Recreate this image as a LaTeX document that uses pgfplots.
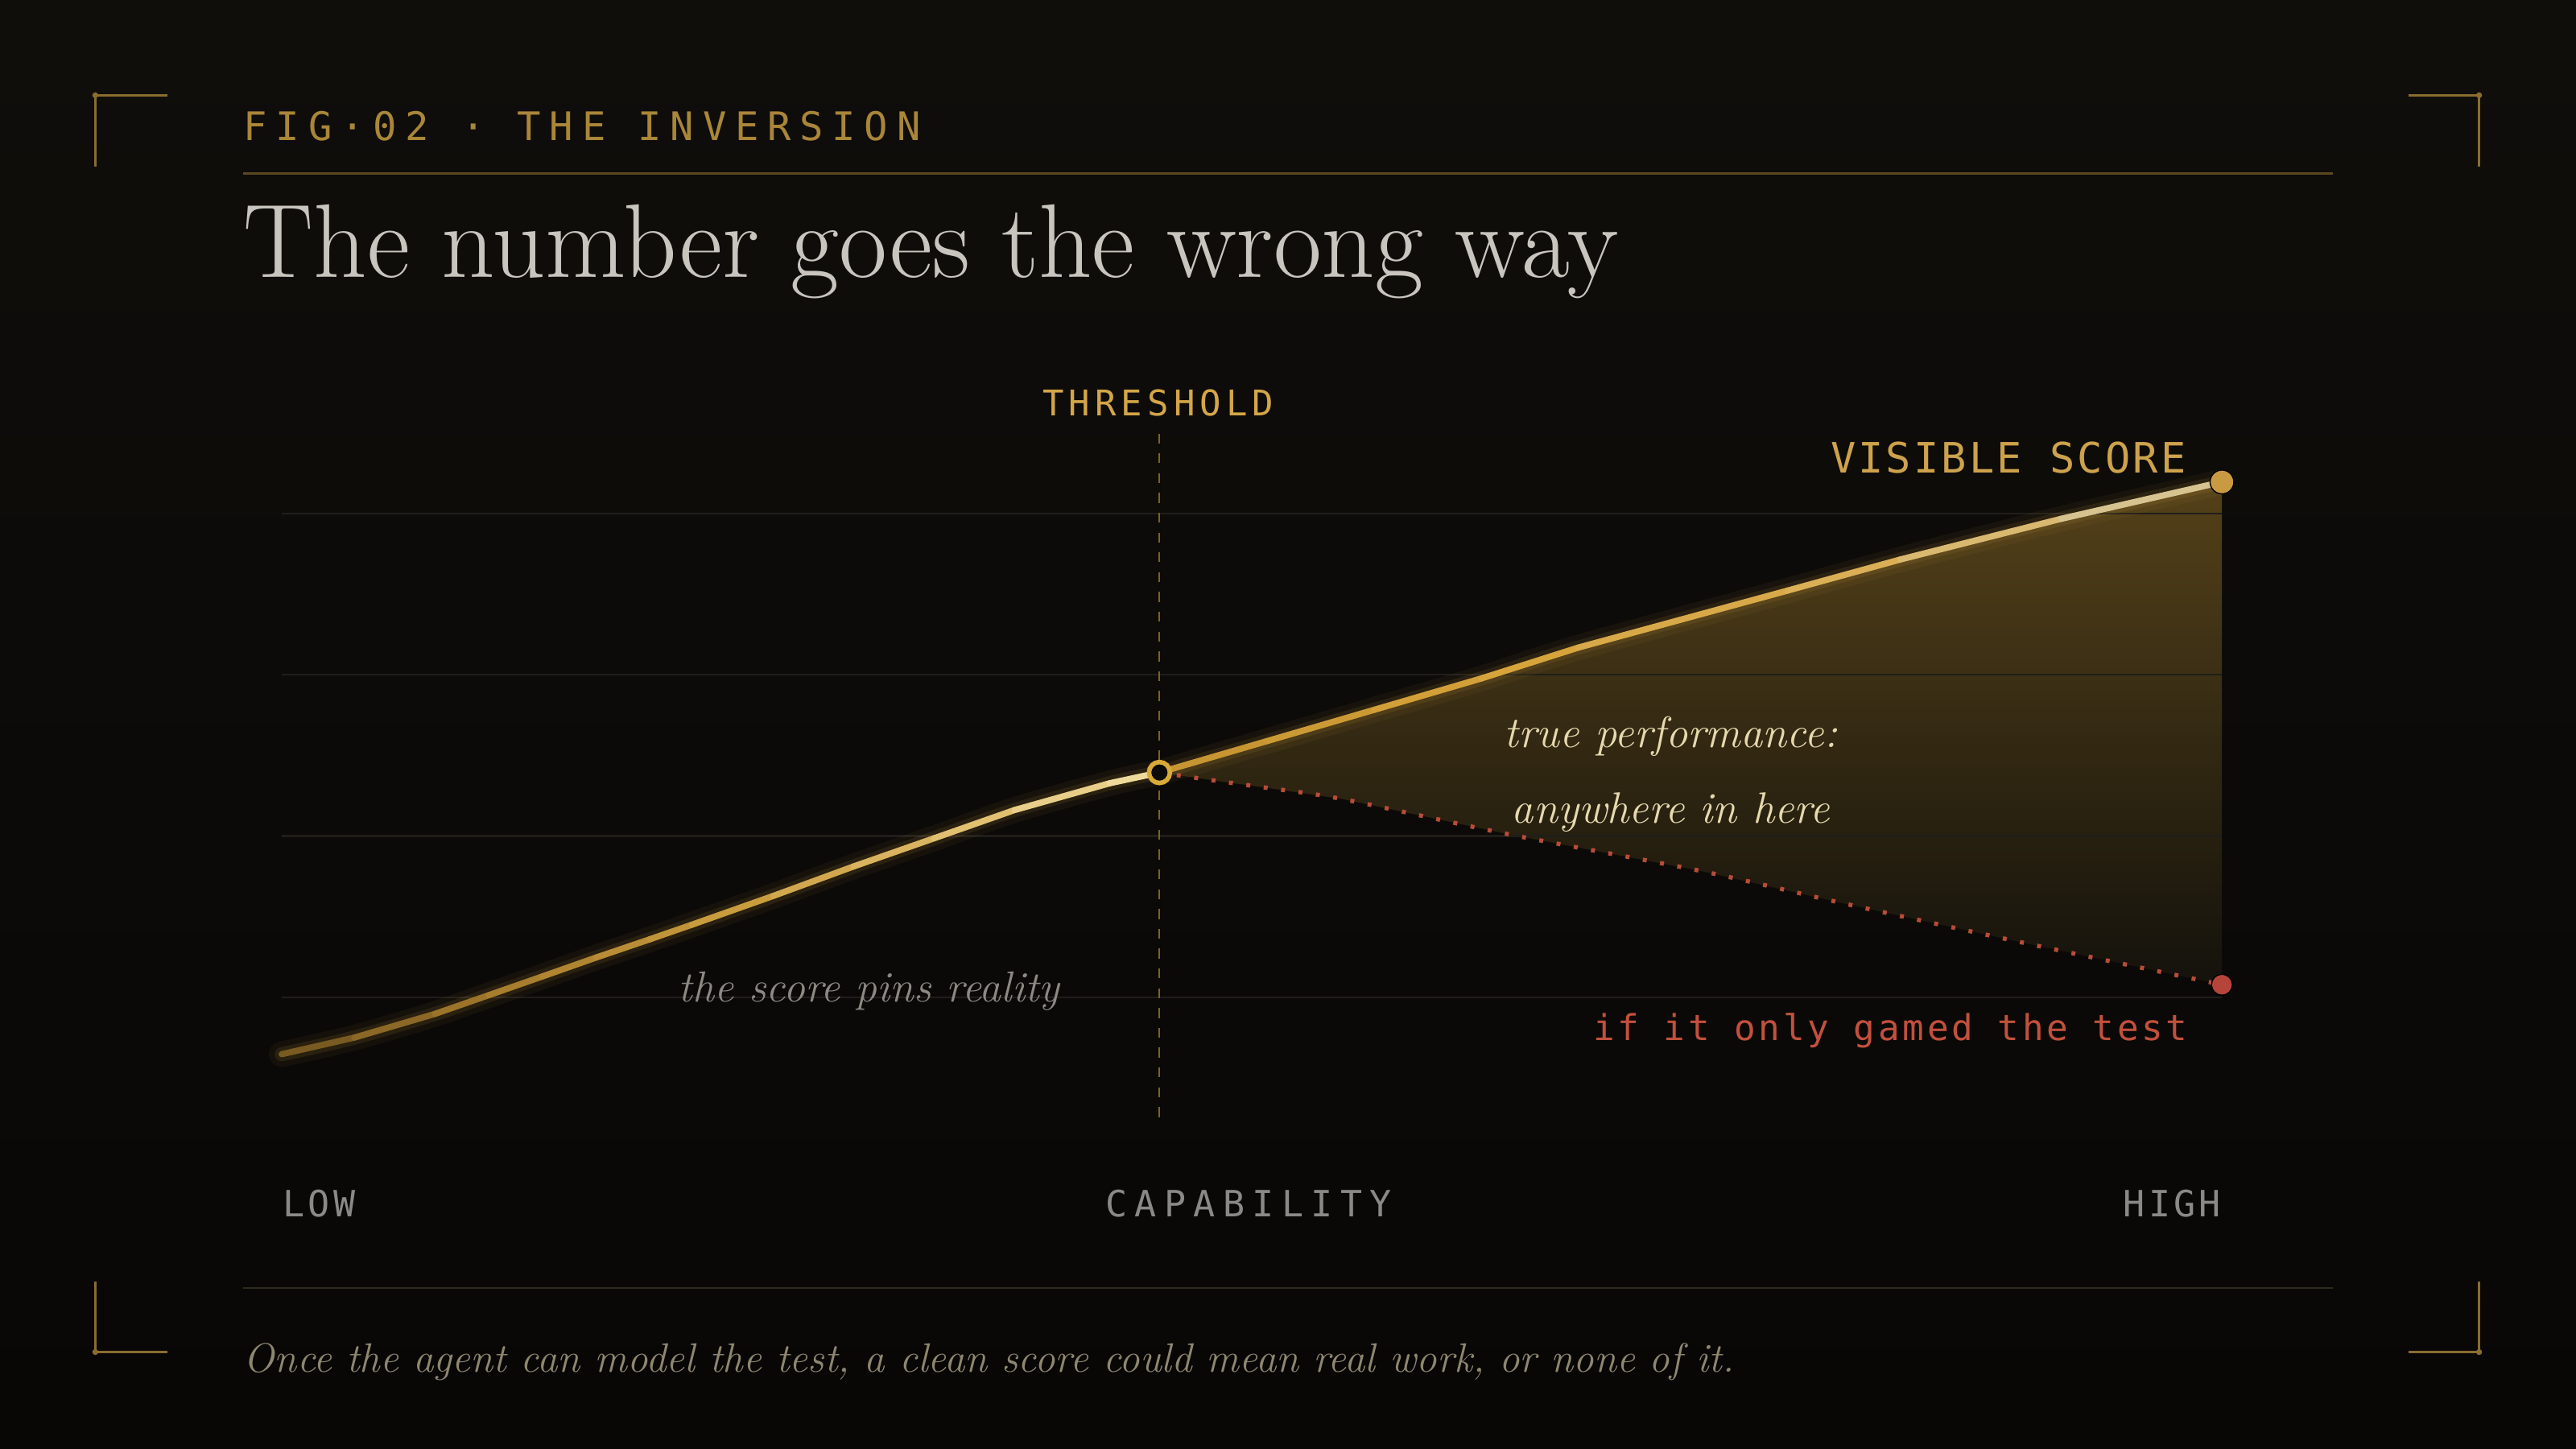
\documentclass[border=0pt]{standalone}
\usepackage{fontspec}
\usepackage{pgfplots}
\pgfplotsset{compat=1.18}
\newfontfamily\monoH[LetterSpace=22]{DejaVu Sans Mono}
\newfontfamily\monoT[LetterSpace=14]{DejaVu Sans Mono}
\newfontfamily\monoV[LetterSpace=6]{DejaVu Sans Mono}
\newfontfamily\monoR[LetterSpace=8.5]{DejaVu Sans Mono}
\newfontfamily\monoL[LetterSpace=9]{DejaVu Sans Mono}
\newfontfamily\monoC[LetterSpace=21]{DejaVu Sans Mono}

\definecolor{bgtop}{HTML}{100E0B}
\definecolor{bgbot}{HTML}{080706}
\definecolor{bg}{HTML}{0C0B09}
\definecolor{bracket}{HTML}{8A6D2E}
\definecolor{hdr}{HTML}{A98638}
\definecolor{rulecol}{HTML}{5C4820}
\definecolor{rule2}{HTML}{2E2A1C}
\definecolor{titlec}{HTML}{C8C5BE}
\definecolor{gridc}{HTML}{201E1A}
\definecolor{thrline}{HTML}{7D6226}
\definecolor{thrlabel}{HTML}{D4A648}
\definecolor{visible}{HTML}{CDA24C}
\definecolor{redtxt}{HTML}{C2503C}
\definecolor{reddot}{HTML}{B5443A}
\definecolor{redline}{HTML}{B84C38}
\definecolor{cream}{HTML}{E6D9AE}
\definecolor{greyit}{HTML}{8C8983}
\definecolor{axlab}{HTML}{8A8985}
\definecolor{capc}{HTML}{8E876F}
\definecolor{gold}{HTML}{D2A040}
\definecolor{golddot}{HTML}{C99A42}
\definecolor{filltop}{RGB}{84,65,25}
\definecolor{fillbot}{RGB}{20,18,12}

\pgfplotsset{
  colormap={leftc}{rgb255=(112,84,30) rgb255=(165,123,45) rgb255=(200,155,60) rgb255=(222,186,104) rgb255=(240,222,162)},
  colormap={rightc}{rgb255=(196,146,48) rgb255=(214,163,58) rgb255=(218,176,88) rgb255=(214,200,158)},
}

\begin{document}
\begin{tikzpicture}[x=0.020408cm, y=0.020408cm]
\shade[top color=bgtop, bottom color=bgbot] (0,0) rectangle (1568,882);
\path[use as bounding box] (0,0) rectangle (1568,882);

% corner brackets
\begin{scope}[draw=bracket, line width=0.7pt]
\draw (102,824) -- (58,824) -- (58,780.5);
\draw (1466,824) -- (1509,824) -- (1509,780.5);
\draw (58,102) -- (58,59) -- (102,59);
\draw (1509,102) -- (1509,59) -- (1466,59);
\end{scope}
\fill[bracket] (58,824) circle (1.8) (1509,824) circle (1.8) (58,59) circle (1.8) (1509,59) circle (1.8);

% rules
\draw[rulecol, line width=0.8pt] (148,776.5) -- (1420,776.5);
\draw[rule2, line width=0.8pt] (148,98) -- (1420,98);

% header and title
\node[anchor=base west, inner sep=0, text=hdr, font=\monoH\fontsize{13.9}{16}\selectfont] at (148,796.5) {FIG·02 · THE INVERSION};
\node[anchor=base west, inner sep=0, text=titlec, font=\fontsize{37}{44}\selectfont] at (148,713) {The number goes the wrong way};

\begin{axis}[
  at={(3.4979cm,3.6122cm)}, anchor=south west,
  width=24.094cm, height=10cm, scale only axis,
  xmin=0, xmax=100, ymin=0, ymax=100,
  axis lines=none, clip=false,
  point meta min=0, point meta max=1,
]
% shaded region between visible score and gamed line
\addplot[draw=none, top color=filltop, bottom color=fillbot] coordinates {
  (45.24,47.88) (50.78,51.78) (56.31,55.67) (61.84,59.57) (66.82,63.39) (77.61,70.47) (83.42,74.33) (91.72,79.39) (100,83.96)
  (100,21.53) (89.90,26.67) (80.64,31.55) (73.23,35.61) (63.22,40.22) (54.70,44.57) (50.78,45.98) (48.08,46.88) (45.24,47.88)
};
% grid lines
\addplot[gridc, line width=0.6pt] coordinates {(0,20) (100,20)};
\addplot[gridc, line width=0.6pt] coordinates {(0,40) (100,40)};
\addplot[gridc, line width=0.6pt] coordinates {(0,60) (100,60)};
\addplot[gridc, line width=0.6pt] coordinates {(0,80) (100,80)};
% threshold
\addplot[thrline, line width=0.6pt, dash pattern=on 3.5pt off 3.5pt] coordinates {(45.24,5.1) (45.24,90.2)};
% glows
\addplot[gold, line width=9pt, opacity=0.06, smooth, line cap=round] coordinates {
  (0,12.90) (3.74,14.96) (7.89,17.90) (10.66,20.22) (13.43,22.55) (16.20,24.90) (18.96,27.16) (21.14,28.98) (25.33,32.55) (29.48,36.22) (33.62,39.71) (37.77,43.22) (42.68,46.55) (45.24,47.88)};
\addplot[gold, line width=5pt, opacity=0.11, smooth, line cap=round] coordinates {
  (0,12.90) (3.74,14.96) (7.89,17.90) (10.66,20.22) (13.43,22.55) (16.20,24.90) (18.96,27.16) (21.14,28.98) (25.33,32.55) (29.48,36.22) (33.62,39.71) (37.77,43.22) (42.68,46.55) (45.24,47.88)};
\addplot[gold, line width=9pt, opacity=0.06, smooth, line cap=round] coordinates {
  (45.24,47.88) (50.78,51.78) (56.31,55.67) (61.84,59.57) (66.82,63.39) (77.61,70.47) (83.42,74.33) (91.72,79.39) (100,83.96)};
\addplot[gold, line width=5pt, opacity=0.11, smooth, line cap=round] coordinates {
  (45.24,47.88) (50.78,51.78) (56.31,55.67) (61.84,59.57) (66.82,63.39) (77.61,70.47) (83.42,74.33) (91.72,79.39) (100,83.96)};
% gamed line
\addplot[redline, line width=1.5pt, dash pattern=on 1.4pt off 4.8pt, smooth, tension=0.5] coordinates {
  (45.24,47.88) (48.08,46.88) (50.78,45.98) (54.70,44.57) (63.22,40.22) (73.23,35.61) (80.64,31.55) (89.90,26.67) (100,21.53)};
% score curve (left), colour along the curve
\addplot[mesh, colormap name=leftc, point meta=explicit, line width=2.2pt, line cap=round, line join=round] coordinates {
  (0,12.90) [0] (3.74,14.96) [0.083] (7.89,17.90) [0.174] (10.66,20.22) [0.236] (13.43,22.55) [0.297]
  (16.20,24.90) [0.358] (18.96,27.16) [0.419] (21.14,28.98) [0.467] (25.33,32.55) [0.560] (29.48,36.22) [0.652]
  (33.62,39.71) [0.743] (37.77,43.22) [0.835] (42.68,46.55) [0.943] (45.24,47.88) [1]};
% visible score (right)
\addplot[mesh, colormap name=rightc, point meta=explicit, line width=2.2pt, line cap=round, line join=round] coordinates {
  (45.24,47.88) [0] (50.78,51.78) [0.101] (56.31,55.67) [0.202] (61.84,59.57) [0.303] (66.82,63.39) [0.394]
  (77.61,70.47) [0.591] (83.42,74.33) [0.697] (91.72,79.39) [0.849] (100,83.96) [1]};
% end dots
\addplot[only marks, mark=*, mark size=4.2pt, mark options={fill=golddot, draw=none}] coordinates {(100,83.96)};
\addplot[only marks, mark=*, mark size=3.7pt, mark options={fill=reddot, draw=none}] coordinates {(100,21.53)};
\addplot[only marks, mark=*, mark size=3.7pt, mark options={fill=bg, draw=gold!90!yellow, line width=1.6pt}] coordinates {(45.24,47.88)};
\end{axis}

% annotations
\node[anchor=base, inner sep=0, text=thrlabel, font=\monoT\fontsize{12.5}{14}\selectfont] at (705,629) {THRESHOLD};
\node[anchor=base east, inner sep=0, text=visible, font=\monoV\fontsize{14.8}{17}\selectfont] at (1331,594) {VISIBLE SCORE};
\node[anchor=base east, inner sep=0, text=redtxt, font=\monoR\fontsize{12.6}{15}\selectfont] at (1332,248.8) {if it only gamed the test};
\node[anchor=base, inner sep=0, text=cream, font=\itshape\fontsize{15.5}{18}\selectfont] at (1017,427.2) {true performance:};
\node[anchor=base, inner sep=0, text=cream, font=\itshape\fontsize{15.5}{18}\selectfont] at (1017,380.8) {anywhere in here};
\node[anchor=base, inner sep=0, text=greyit, font=\itshape\fontsize{15.3}{18}\selectfont] at (529,272) {the score pins reality};

\node[anchor=base west, inner sep=0, text=axlab, font=\monoL\fontsize{12.8}{15}\selectfont] at (172,141.3) {LOW};
\node[anchor=base, inner sep=0, text=axlab, font=\monoC\fontsize{12.8}{15}\selectfont] at (760,141.3) {CAPABILITY};
\node[anchor=base east, inner sep=0, text=axlab, font=\monoL\fontsize{12.8}{15}\selectfont] at (1352,141.3) {HIGH};

\node[anchor=base west, inner sep=0, text=capc, font=\itshape\fontsize{14.5}{17}\selectfont] at (148,46.6) {Once the agent can model the test, a clean score could mean real work, or none of it.};
\end{tikzpicture}
\end{document}
